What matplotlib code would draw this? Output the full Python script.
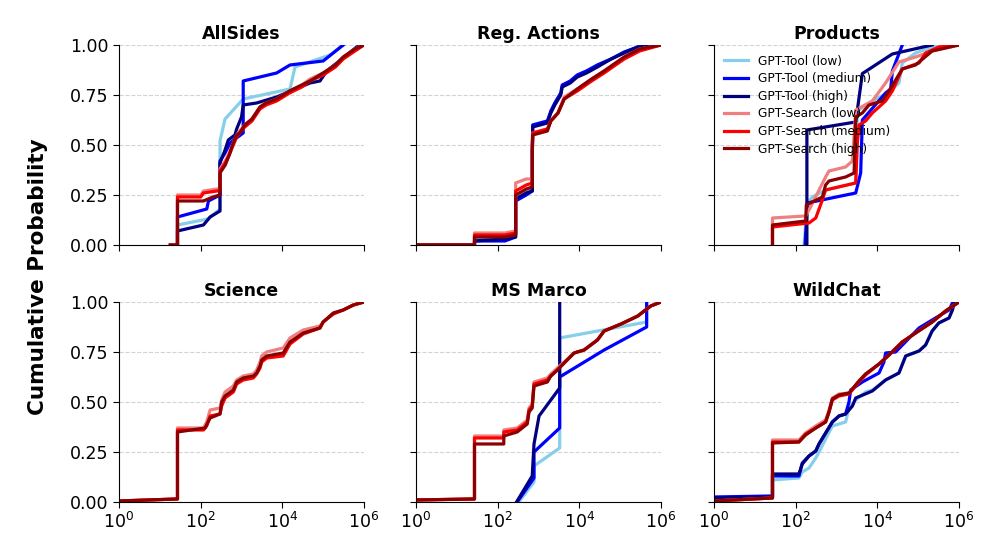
import numpy as np
import matplotlib
matplotlib.use("Agg")
import matplotlib.pyplot as plt
from matplotlib.ticker import NullLocator, FormatStrFormatter

PANELS = ["AllSides", "Reg. Actions", "Products", "Science", "MS Marco", "WildChat"]
SERIES = ["GPT-Tool (low)", "GPT-Tool (medium)", "GPT-Tool (high)",
          "GPT-Search (low)", "GPT-Search (medium)", "GPT-Search (high)"]
COLORS = ["skyblue", "blue", "navy", "lightcoral", "red", "darkred"]
YTICKS = [0.0, 0.25, 0.5, 0.75, 1.0]
XTICKS = [1, 1e2, 1e4, 1e6]
XTICKLABELS = ["$10^0$", "$10^2$", "$10^4$", "$10^6$"]

# (x, cumulative probability) points, one list per curve
# --- AllSides
allsides_tool_low = [(27, 0.0), (27, 0.10), (150, 0.13), (297, 0.18), (297, 0.52), (395, 0.63),
                     (1100, 0.73), (15400, 0.78), (20400, 0.89), (1.47e5, 0.95), (3.1e5, 1.0)]
allsides_tool_med = [(27, 0.0), (27, 0.14), (141, 0.18), (155, 0.22), (297, 0.25), (297, 0.42),
                     (395, 0.46), (523, 0.51), (700, 0.53), (1100, 0.56), (1100, 0.82),
                     (7250, 0.86), (15400, 0.90), (1e5, 0.92), (3.1e5, 1.0)]
allsides_tool_high = [(27, 0.0), (27, 0.07), (117, 0.10), (170, 0.14), (297, 0.17), (297, 0.41),
                      (395, 0.475), (475, 0.525), (690, 0.55), (760, 0.58), (1000, 0.64),
                      (1100, 0.70), (2350, 0.71), (7250, 0.74), (47600, 0.81), (83500, 0.82),
                      (1.22e5, 0.87), (3.8e5, 0.95), (6.6e5, 0.99), (1e6, 1.0)]
allsides_search_low = [(18, 0.0), (27, 0.0), (27, 0.25), (100, 0.25), (117, 0.27), (250, 0.28),
                       (297, 0.28), (297, 0.38), (400, 0.42), (500, 0.46), (600, 0.50),
                       (760, 0.55), (900, 0.57), (1200, 0.60), (1800, 0.63), (2830, 0.69),
                       (4000, 0.71), (7250, 0.73), (15000, 0.77), (30000, 0.80), (47600, 0.83),
                       (1e5, 0.86), (2e5, 0.90), (3.1e5, 0.94), (6e5, 0.98), (1e6, 1.0)]
allsides_search_med = [(18, 0.0), (27, 0.0), (27, 0.24), (100, 0.24), (117, 0.26), (250, 0.27),
                       (297, 0.27), (297, 0.37), (400, 0.41), (500, 0.45), (600, 0.49),
                       (760, 0.54), (900, 0.56), (1200, 0.59), (1800, 0.62), (2830, 0.68),
                       (4000, 0.70), (7250, 0.72), (15000, 0.76), (30000, 0.79), (47600, 0.82),
                       (1e5, 0.85), (2e5, 0.89), (3.1e5, 0.93), (6e5, 0.97), (1e6, 1.0)]
allsides_search_high = [(18, 0.0), (27, 0.0), (27, 0.22), (117, 0.22), (200, 0.24), (297, 0.25),
                        (297, 0.36), (400, 0.40), (500, 0.45), (600, 0.50), (760, 0.55),
                        (900, 0.56), (1200, 0.60), (1800, 0.63), (2830, 0.69), (4000, 0.71),
                        (7250, 0.73), (15000, 0.77), (30000, 0.80), (47600, 0.82),
                        (1e5, 0.86), (2e5, 0.90), (3.1e5, 0.94), (6e5, 0.98), (1e6, 1.0)]

# --- Reg. Actions
reg_tool_low = [(1, 0.0), (27, 0.0), (27, 0.03), (150, 0.03), (275, 0.05), (275, 0.24),
                (500, 0.27), (705, 0.28), (705, 0.47), (720, 0.60), (1650, 0.62),
                (2000, 0.66), (2500, 0.70), (3500, 0.75), (3800, 0.79), (6000, 0.82),
                (8900, 0.85), (15000, 0.87), (27700, 0.90), (60000, 0.93), (1.26e5, 0.965),
                (2.7e5, 0.99), (1e6, 1.0)]
reg_tool_med = [(1, 0.0), (27, 0.0), (27, 0.02), (150, 0.02), (275, 0.04), (275, 0.22),
                (500, 0.25), (705, 0.27), (705, 0.45), (720, 0.60), (1650, 0.62),
                (2000, 0.67), (2500, 0.71), (3500, 0.76), (3800, 0.80), (6000, 0.82),
                (8900, 0.85), (15000, 0.87), (27700, 0.90), (60000, 0.93), (1.26e5, 0.965),
                (2.7e5, 0.99), (1e6, 1.0)]
reg_tool_high = [(1, 0.0), (27, 0.0), (27, 0.02), (150, 0.03), (275, 0.04), (275, 0.23),
                 (500, 0.26), (705, 0.27), (705, 0.46), (720, 0.59), (1650, 0.61),
                 (2000, 0.66), (2500, 0.70), (3500, 0.75), (3800, 0.79), (6000, 0.81),
                 (8900, 0.84), (15000, 0.86), (27700, 0.89), (60000, 0.93), (1.26e5, 0.96),
                 (2.7e5, 0.99), (1e6, 1.0)]
reg_search_low = [(1, 0.0), (27, 0.0), (27, 0.06), (150, 0.06), (275, 0.07), (275, 0.31),
                  (500, 0.33), (705, 0.33), (705, 0.50), (720, 0.56), (1650, 0.58),
                  (2000, 0.62), (3000, 0.66), (4250, 0.74), (8900, 0.78), (20000, 0.83),
                  (40400, 0.87), (1.26e5, 0.94), (3e5, 0.98), (1e6, 1.0)]
reg_search_med = [(1, 0.0), (27, 0.0), (27, 0.05), (150, 0.05), (275, 0.06), (275, 0.27),
                  (500, 0.30), (705, 0.31), (705, 0.48), (720, 0.56), (1650, 0.58),
                  (2000, 0.62), (3000, 0.66), (4250, 0.73), (8900, 0.77), (20000, 0.82),
                  (40400, 0.86), (1.26e5, 0.93), (3e5, 0.97), (1e6, 1.0)]
reg_search_high = [(1, 0.0), (27, 0.0), (27, 0.04), (150, 0.04), (275, 0.05), (275, 0.25),
                   (500, 0.28), (705, 0.29), (705, 0.47), (720, 0.55), (1650, 0.57),
                   (2000, 0.62), (3000, 0.66), (4250, 0.73), (8900, 0.78), (20000, 0.83),
                   (40400, 0.87), (1.26e5, 0.94), (3e5, 0.98), (1e6, 1.0)]

# --- Products
prod_tool_low = [(160, 0.0), (193, 0.21), (256, 0.24), (540, 0.275), (2950, 0.31), (3240, 0.67),
                 (7540, 0.72), (19300, 0.765), (33800, 0.81), (40800, 0.91), (86300, 0.96),
                 (2.2e5, 0.99), (1e6, 1.0)]
prod_tool_med = [(170, 0.0), (193, 0.21), (2950, 0.26), (3900, 0.36), (4290, 0.625),
                 (15900, 0.76), (21200, 0.78), (23300, 0.87), (40800, 1.0)]
prod_tool_high = [(188, 0.0), (188, 0.575), (2950, 0.615), (4290, 0.857), (23300, 0.955),
                  (2.2e5, 1.0)]
prod_search_low = [(27, 0.0), (27, 0.135), (175, 0.145), (212, 0.175), (540, 0.34),
                   (655, 0.37), (1670, 0.39), (2450, 0.42), (2950, 0.675), (7540, 0.72),
                   (15900, 0.81), (33800, 0.915), (86300, 0.94), (2.2e5, 0.97), (1e6, 1.0)]
prod_search_med = [(27, 0.0), (27, 0.09), (212, 0.11), (310, 0.135), (450, 0.225),
                   (540, 0.275), (2950, 0.31), (3240, 0.51), (3550, 0.60), (5150, 0.62),
                   (7540, 0.66), (15900, 0.72), (23300, 0.77), (40800, 0.88),
                   (1.05e5, 0.91), (1.52e5, 0.96), (3.2e5, 0.99), (1e6, 1.0)]
prod_search_high = [(27, 0.0), (27, 0.10), (175, 0.12), (182, 0.20), (450, 0.24), (540, 0.30),
                    (655, 0.32), (1670, 0.34), (2690, 0.36), (2950, 0.64), (4290, 0.66),
                    (6250, 0.70), (13200, 0.72), (19300, 0.77), (40800, 0.88),
                    (86300, 0.90), (2.2e5, 0.97), (1e6, 1.0)]

# --- Science (no GPT-Tool runs)
sci_search_low = [(1, 0.005), (27, 0.015), (27, 0.37), (117, 0.37), (140, 0.40), (170, 0.46),
                  (297, 0.47), (326, 0.51), (395, 0.55), (630, 0.58), (760, 0.61),
                  (1100, 0.63), (1950, 0.64), (2350, 0.66), (2840, 0.70), (3120, 0.73),
                  (4130, 0.75), (10500, 0.77), (15400, 0.82), (32500, 0.86), (83500, 0.88),
                  (1e5, 0.90), (1.78e5, 0.945), (3.1e5, 0.96), (5.5e5, 0.985), (1e6, 1.0)]
sci_search_med = [(1, 0.005), (27, 0.015), (27, 0.36), (117, 0.36), (140, 0.38), (170, 0.43),
                  (297, 0.44), (326, 0.48), (395, 0.52), (630, 0.55), (760, 0.59),
                  (1100, 0.61), (1950, 0.62), (2350, 0.64), (2840, 0.67), (3120, 0.70),
                  (4130, 0.72), (10500, 0.73), (15400, 0.79), (32500, 0.84), (83500, 0.87),
                  (1e5, 0.90), (1.78e5, 0.94), (3.1e5, 0.96), (5.5e5, 0.985), (1e6, 1.0)]
sci_search_high = [(1, 0.005), (27, 0.015), (27, 0.35), (128, 0.37), (170, 0.42), (297, 0.44),
                   (326, 0.50), (395, 0.53), (630, 0.56), (760, 0.60), (1100, 0.62),
                   (1950, 0.63), (2350, 0.645), (2840, 0.68), (3120, 0.71), (4130, 0.73),
                   (10500, 0.745), (15400, 0.80), (32500, 0.845), (83500, 0.87),
                   (1e5, 0.90), (1.78e5, 0.945), (3.1e5, 0.96), (5.5e5, 0.985), (1e6, 1.0)]

# --- MS Marco
msm_tool_low = [(330, 0.0), (775, 0.10), (775, 0.18), (3300, 0.27), (3300, 0.82),
                (4.45e5, 0.90), (4.45e5, 1.0)]
msm_tool_med = [(300, 0.0), (775, 0.12), (775, 0.25), (3300, 0.37), (3300, 0.625),
                (40500, 0.76), (4.45e5, 0.875), (4.45e5, 1.0)]
msm_tool_high = [(290, 0.0), (700, 0.13), (775, 0.29), (1030, 0.43), (3300, 0.57), (3300, 1.0)]
msm_search_low = [(1, 0.01), (27, 0.015), (27, 0.33), (141, 0.33), (141, 0.36), (300, 0.37),
                  (530, 0.41), (585, 0.47), (700, 0.49), (775, 0.60), (1650, 0.62),
                  (2000, 0.64), (2900, 0.67), (4250, 0.70), (7450, 0.745), (13100, 0.76),
                  (27700, 0.81), (40500, 0.855), (1.05e5, 0.89), (2.7e5, 0.93),
                  (5.6e5, 0.98), (1e6, 1.0)]
msm_search_med = [(1, 0.01), (27, 0.015), (27, 0.32), (141, 0.32), (141, 0.35), (300, 0.36),
                  (530, 0.40), (585, 0.46), (700, 0.48), (775, 0.59), (1650, 0.61),
                  (2000, 0.63), (2900, 0.66), (4250, 0.695), (7450, 0.745), (13100, 0.76),
                  (27700, 0.81), (40500, 0.855), (1.05e5, 0.89), (2.7e5, 0.93),
                  (5.6e5, 0.98), (1e6, 1.0)]
msm_search_high = [(1, 0.01), (27, 0.015), (27, 0.29), (141, 0.29), (141, 0.33), (300, 0.35),
                   (530, 0.39), (585, 0.45), (700, 0.47), (775, 0.58), (1650, 0.60),
                   (2000, 0.63), (2900, 0.66), (4250, 0.695), (7450, 0.745), (13100, 0.76),
                   (27700, 0.81), (40500, 0.855), (1.05e5, 0.89), (2.7e5, 0.93),
                   (5.6e5, 0.98), (1e6, 1.0)]

# --- WildChat
wc_tool_low = [(1, 0.02), (27, 0.025), (27, 0.11), (120, 0.12), (145, 0.15), (212, 0.17),
               (310, 0.22), (372, 0.25), (790, 0.38), (1670, 0.40), (2020, 0.47),
               (2950, 0.51), (5150, 0.55), (7540, 0.56), (15900, 0.61), (33800, 0.645),
               (49400, 0.73), (1.05e5, 0.755), (1.52e5, 0.785), (2.2e5, 0.855),
               (3.2e5, 0.895), (5.7e5, 0.92), (6.9e5, 0.96), (7.6e5, 0.995), (1e6, 1.0)]
wc_tool_med = [(1, 0.025), (27, 0.03), (27, 0.13), (120, 0.13), (145, 0.195), (212, 0.23),
               (310, 0.255), (372, 0.29), (790, 0.40), (1150, 0.43), (1670, 0.44),
               (2020, 0.50), (2220, 0.56), (4290, 0.60), (11000, 0.645), (14500, 0.70),
               (15900, 0.745), (28000, 0.75), (1.05e5, 0.87), (3.2e5, 0.93),
               (5.7e5, 0.96), (6.9e5, 0.995), (1e6, 1.0)]
wc_tool_high = [(1, 0.02), (27, 0.025), (27, 0.14), (120, 0.14), (145, 0.19), (212, 0.23),
                (310, 0.255), (372, 0.29), (790, 0.40), (1150, 0.43), (1670, 0.44),
                (2450, 0.48), (2950, 0.52), (7540, 0.555), (15900, 0.61), (33800, 0.645),
                (49400, 0.73), (1.05e5, 0.755), (1.52e5, 0.785), (2.2e5, 0.855),
                (3.2e5, 0.895), (5.7e5, 0.92), (6.9e5, 0.96), (7.6e5, 0.995), (1e6, 1.0)]
wc_search_low = [(1, 0.005), (27, 0.02), (27, 0.31), (120, 0.31), (175, 0.345), (310, 0.38),
                 (540, 0.41), (655, 0.46), (790, 0.52), (1150, 0.54), (2020, 0.545),
                 (3550, 0.605), (5150, 0.64), (11000, 0.69), (19300, 0.735), (40800, 0.80),
                 (86300, 0.845), (2.2e5, 0.90), (4.7e5, 0.955), (1e6, 1.0)]
wc_search_med = [(1, 0.005), (27, 0.02), (27, 0.30), (120, 0.30), (175, 0.34), (310, 0.37),
                 (540, 0.40), (655, 0.45), (790, 0.51), (1150, 0.53), (2020, 0.54),
                 (3550, 0.60), (5150, 0.635), (11000, 0.69), (19300, 0.735), (40800, 0.80),
                 (86300, 0.845), (2.2e5, 0.90), (4.7e5, 0.955), (1e6, 1.0)]
wc_search_high = [(1, 0.005), (27, 0.02), (27, 0.295), (120, 0.30), (175, 0.335), (310, 0.37),
                  (540, 0.40), (655, 0.45), (790, 0.515), (1150, 0.535), (2020, 0.545),
                  (3550, 0.605), (5150, 0.64), (11000, 0.69), (19300, 0.735), (40800, 0.80),
                  (86300, 0.845), (2.2e5, 0.90), (4.7e5, 0.955), (1e6, 1.0)]

CURVES = {
    "AllSides": [allsides_tool_low, allsides_tool_med, allsides_tool_high,
                 allsides_search_low, allsides_search_med, allsides_search_high],
    "Reg. Actions": [reg_tool_low, reg_tool_med, reg_tool_high,
                     reg_search_low, reg_search_med, reg_search_high],
    "Products": [prod_tool_low, prod_tool_med, prod_tool_high,
                 prod_search_low, prod_search_med, prod_search_high],
    "Science": [None, None, None, sci_search_low, sci_search_med, sci_search_high],
    "MS Marco": [msm_tool_low, msm_tool_med, msm_tool_high,
                 msm_search_low, msm_search_med, msm_search_high],
    "WildChat": [wc_tool_low, wc_tool_med, wc_tool_high,
                 wc_search_low, wc_search_med, wc_search_high],
}

fig = plt.figure(figsize=(9.97, 5.54), dpi=100)
lefts = [0.1194, 0.4173, 0.7162]
bottoms = [0.5578, 0.0939]
w, h = 0.2457, 0.361

for i, name in enumerate(PANELS):
    r, c = divmod(i, 3)
    ax = fig.add_axes([lefts[c], bottoms[r], w, h])
    for pts, lab, col in zip(CURVES[name], SERIES, COLORS):
        if pts is None:
            continue
        xs, ys = zip(*pts)
        ax.plot(xs, ys, color=col, lw=2.3, label=lab)
    ax.set_xscale("log")
    ax.set_xlim(1, 1e6)
    ax.set_ylim(0, 1)
    ax.set_xticks(XTICKS)
    ax.xaxis.set_minor_locator(NullLocator())
    ax.set_yticks(YTICKS)
    ax.yaxis.set_major_formatter(FormatStrFormatter("%.2f"))
    if r == 1:
        ax.set_xticklabels(XTICKLABELS)
    else:
        ax.set_xticklabels([])
    if c != 0:
        ax.set_yticklabels([])
    ax.tick_params(labelsize=12.5, length=4)
    ax.grid(axis="y", ls="--", color="lightgray", lw=0.8)
    ax.set_axisbelow(True)
    for s in ["top", "right"]:
        ax.spines[s].set_visible(False)
    ax.set_title(name, fontsize=12.5, fontweight="bold", pad=4)
    if name == "Products":
        ax.legend(loc="upper left", fontsize=8.7, frameon=False, handlelength=2.0,
                  borderaxespad=0.4, labelspacing=0.38)

fig.text(0.038, 0.5, "Cumulative Probability", rotation=90, va="center", ha="center",
         fontsize=15.5, fontweight="bold")
fig.savefig("out.png", dpi=100)
